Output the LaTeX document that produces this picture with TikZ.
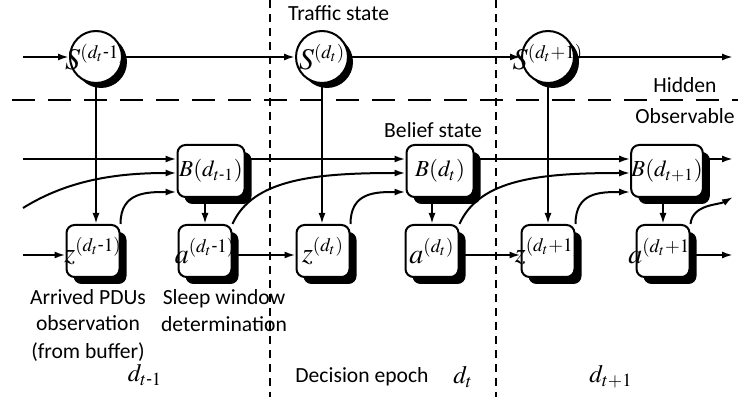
\documentclass[tikz,border=0pt]{standalone}
\usepackage{mathptmx}
\usepackage{amsmath}
\usepackage[no-math]{fontspec}
\setmainfont{Carlito}
\usetikzlibrary{
  arrows.meta,
  shadows,
  calc
}
\DeclareMathSizes{15}{15}{9.5}{7.5}
\DeclareMathSizes{14}{14}{9.5}{7.5}

\begin{document}
\begin{tikzpicture}[x = 0.5pt, y = -0.5pt, font = \fontsize{10.8}{13.5}\selectfont]
  \tikzset{>={Latex[length = 5.5pt, width = 3.5pt]}}
  \tikzset{
    state/.style = {circle, draw, line width = 1pt, fill = white, minimum size = 26pt, inner sep = 0pt,
      font = \fontsize{15}{18}\selectfont,
      drop shadow = {shadow xshift = 2.5pt, shadow yshift = -2.5pt, fill = black, opacity = 1}},
    beliefbox/.style = {rectangle, rounded corners = 4pt, draw, line width = 1pt, fill = white,
      minimum width = 33.5pt, minimum height = 26pt, inner sep = 0pt,
      font = \fontsize{11.5}{13}\selectfont,
      drop shadow = {shadow xshift = 3.5pt, shadow yshift = -3.5pt, fill = black, opacity = 1}},
    obsbox/.style = {beliefbox, minimum width = 26.5pt, font = \fontsize{14}{16}\selectfont},
    flow/.style = {->, line width = 1pt},
    epochline/.style = {dash pattern = on 4pt off 3pt, line width = 0.9pt},
    layerline/.style = {dash pattern = on 11.5pt off 6.5pt, line width = 1pt},
    epochlabel/.style = {font = \fontsize{12.5}{14}\selectfont}
  }

  \useasboundingbox (0,0) rectangle (738,400);

  \draw[epochline] (270,0) -- (270,397);
  \draw[epochline] (496,0) -- (496,397);
  \draw[layerline] (12,100) -- (738,100);

  % hidden traffic states
  \node[state] (Sprev) at (96,57) {\makebox[0pt]{$S^{(d_t\text{-}1)}$}};
  \node[state] (Snow) at (322,57) {\makebox[0pt]{$S^{(d_t)}$}};
  \node[state] (Snext) at (548,57) {\makebox[0pt]{$S^{(d_t+1)}$}};

  % belief states
  \node[beliefbox] (Bprev) at (211,171) {$B(d_{t\text{-}1})$};
  \node[beliefbox] (Bnow) at (440,171) {$B(d_t)$};
  \node[beliefbox] (Bnext) at (667,171) {$B(d_{t+1})$};

  % observations and actions
  \node[obsbox] (zprev) at (93,251) {\makebox[0pt]{$z^{(d_t\text{-}1)}$}};
  \node[obsbox] (aprev) at (205,251) {\makebox[0pt]{$a^{(d_t\text{-}1)}$}};
  \node[obsbox] (znow) at (323,251) {\makebox[0pt]{$z^{(d_t)}$}};
  \node[obsbox] (anow) at (432,251) {\makebox[0pt]{$a^{(d_t)}$}};
  \node[obsbox] (znext) at (548,251) {\makebox[0pt]{$z^{(d_t+1)}$}};
  \node[obsbox] (anext) at (663,251) {\makebox[0pt]{$a^{(d_t+1)}$}};

  \coordinate (inS) at (23,57);
  \coordinate (outS) at (733,57);
  \coordinate (inB) at (23,159);
  \coordinate (outB) at (733,159);
  \coordinate (inCurve) at (23,208);
  \coordinate (outCurve) at (733,197);
  \coordinate (inZ) at (23,255);
  \coordinate (outA) at (733,255);

  \draw[flow] (inS) -- (Sprev);
  \draw[flow] (Sprev) -- (Snow);
  \draw[flow] (Snow) -- (Snext);
  \draw[flow] (Snext) -- (outS);

  \draw[flow] (Sprev.south) -- (Sprev.south |- zprev.north);
  \draw[flow] (Snow.south) -- (Snow.south |- znow.north);
  \draw[flow] (Snext.south) -- (Snext.south |- znext.north);

  \draw[flow] (inB) -- (inB -| Bprev.west);
  \draw[flow] ([yshift=6pt]Bprev.east) -- ([yshift=6pt]Bnow.west);
  \draw[flow] ([yshift=6pt]Bnow.east) -- ([yshift=6pt]Bnext.west);
  \draw[flow] ([yshift=6pt]Bnext.east) -- (outB);

  \draw[flow] (aprev.north |- Bprev.south) -- (aprev.north);
  \draw[flow] (anow.north |- Bnow.south) -- (anow.north);
  \draw[flow] (anext.north |- Bnext.south) -- (anext.north);

  \draw[flow] (inZ) -- (inZ -| zprev.west);
  \draw[flow] ([yshift=-2pt]aprev.east) -- ([yshift=-2pt]znow.west);
  \draw[flow] ([yshift=-2pt]anow.east) -- ([yshift=-2pt]znext.west);
  \draw[flow] ([yshift=-2pt]anext.east) -- (outA);

  \draw[flow] (inCurve) .. controls +(45,-28) and +(-60,0) .. ([yshift=-1pt]Bprev.west);
  \draw[flow] (aprev.north east) .. controls +(20,-45) and +(-90,0) .. ([yshift=-1pt]Bnow.west);
  \draw[flow] (anow.north east) .. controls +(20,-45) and +(-90,0) .. ([yshift=-1pt]Bnext.west);
  \draw[flow] (zprev.north east) .. controls +(0,-32) and +(-30,0) .. ([yshift=-10.5pt]Bprev.west);
  \draw[flow] (znow.north east) .. controls +(0,-32) and +(-30,0) .. ([yshift=-10.5pt]Bnow.west);
  \draw[flow] (znext.north east) .. controls +(0,-32) and +(-30,0) .. ([yshift=-10.5pt]Bnext.west);
  \draw[flow] (anext.north east) .. controls +(2,-20) and +(-14,8) .. (outCurve);

  \node[anchor = west] (trafficstate) at (281,13) {Traffic state};
  \node (hidden) at (685,85) {Hidden};
  \node (observable) at (685,116) {Observable};
  \node (beliefstate) at (433,130) {Belief state};
  \node[align = center] (arrivedpdus) at (88,325) {Arrived PDUs\\observation\\(from buffer)};
  \node[align = center] (sleepwindow) at (224,311) {Sleep window\\determination};
  \node[epochlabel] (epochprev) at (145,375) {$d_{t\text{-}1}$};
  \node (decisionepoch) at (362,377) {Decision epoch};
  \node[epochlabel] (epochnow) at (463,377) {$d_t$};
  \node[epochlabel] (epochnext) at (611,377) {$d_{t+1}$};
\end{tikzpicture}
\end{document}
